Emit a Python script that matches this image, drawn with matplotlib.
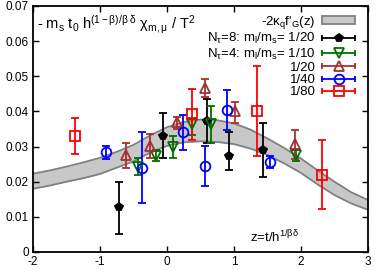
import numpy as np
import matplotlib
matplotlib.use("Agg")
import matplotlib.pyplot as plt
from matplotlib.lines import Line2D
from matplotlib.patches import Patch
from matplotlib.legend_handler import HandlerBase

plt.rcParams['font.family'] = ['Liberation Sans', 'DejaVu Sans']
plt.rcParams['mathtext.fontset'] = 'custom'
plt.rcParams['mathtext.rm'] = 'Liberation Sans'
plt.rcParams['mathtext.it'] = 'Liberation Sans'

# band: -2 kappa_q f'_G(z)
band_x = [-2.0, -1.75, -1.5, -1.25, -1.0, -0.75, -0.5, -0.25, 0.0, 0.25, 0.5,
          0.75, 1.0, 1.25, 1.5, 1.75, 2.0, 2.25, 2.5, 2.75, 3.0]
band_hi = [0.0223, 0.0232, 0.0243, 0.0255, 0.0268, 0.0285, 0.0305, 0.0332, 0.0355, 0.0370, 0.0377,
           0.0375, 0.0366, 0.0348, 0.0323, 0.0296, 0.0266, 0.0232, 0.0200, 0.0170, 0.0148]
band_lo = [0.0180, 0.0189, 0.0200, 0.0210, 0.0222, 0.0240, 0.0258, 0.0283, 0.0302, 0.0312, 0.0315,
           0.0313, 0.0307, 0.0294, 0.0276, 0.0252, 0.0225, 0.0192, 0.0162, 0.0138, 0.0120]

# N_tau=8, ml/ms=1/20
nt8_x = [-0.72, -0.06, 0.60, 0.92, 1.43]
nt8_y = [0.0127, 0.0331, 0.0372, 0.0272, 0.0291]
nt8_lo = [0.0051, 0.0268, 0.0311, 0.0234, 0.0213]
nt8_hi = [0.0199, 0.0396, 0.0434, 0.0341, 0.0368]

# N_tau=4, ml/ms=1/10
m10_x = [-0.43, -0.17, 0.09, 0.37, 0.65, 1.93]
m10_y = [0.0242, 0.0274, 0.0300, 0.0363, 0.0363, 0.0277]
m10_lo = [0.0220, 0.0258, 0.0268, 0.0334, 0.0309, 0.0258]
m10_hi = [0.0268, 0.0290, 0.0330, 0.0382, 0.0415, 0.0291]

# N_tau=4, ml/ms=1/20
m20_x = [-0.61, -0.26, 0.15, 0.57, 1.02, 1.91]
m20_y = [0.0277, 0.0301, 0.0369, 0.0468, 0.0401, 0.0306]
m20_lo = [0.0239, 0.0268, 0.0349, 0.0441, 0.0368, 0.0266]
m20_hi = [0.0310, 0.0336, 0.0385, 0.0491, 0.0427, 0.0346]

# N_tau=4, ml/ms=1/40
m40_x = [-0.91, -0.37, 0.24, 0.56, 0.89, 1.53]
m40_y = [0.0284, 0.0239, 0.0341, 0.0244, 0.0404, 0.0256]
m40_lo = [0.0265, 0.0139, 0.0291, 0.0187, 0.0347, 0.0239]
m40_hi = [0.0301, 0.0341, 0.0391, 0.0303, 0.0461, 0.0274]

# N_tau=4, ml/ms=1/80
m80_x = [-1.38, 0.37, 1.35, 2.32]
m80_y = [0.0329, 0.0394, 0.0401, 0.0220]
m80_lo = [0.0280, 0.0320, 0.0272, 0.0123]
m80_hi = [0.0382, 0.0465, 0.0528, 0.0320]

xticks = [-2, -1, 0, 1, 2, 3]
yticks = [0, 0.01, 0.02, 0.03, 0.04, 0.05, 0.06, 0.07]
ytick_labels = ['0', '0.01', '0.02', '0.03', '0.04', '0.05', '0.06', '0.07']

fig = plt.figure(figsize=(3.77, 2.70), dpi=100)
ax = fig.add_axes([33/377, 1-252/270, (368-33)/377, (252-6)/270])

bx = np.array(band_x)
ax.fill_between(bx, band_lo, band_hi, color='#c8c8c8', lw=0, zorder=1)
ax.plot(bx, band_hi, color='#808080', lw=1.3, zorder=2)
ax.plot(bx, band_lo, color='#808080', lw=1.3, zorder=2)

series = [
    (nt8_x, nt8_y, nt8_lo, nt8_hi, 'black', 'p', True, 6, r'N$_\tau$=8: m$_l$/m$_s$= 1/20'),
    (m10_x, m10_y, m10_lo, m10_hi, '#006e00', 'v', False, 7, r'N$_\tau$=4: m$_l$/m$_s$= 1/10'),
    (m20_x, m20_y, m20_lo, m20_hi, '#a53030', '^', False, 7, '1/20'),
    (m40_x, m40_y, m40_lo, m40_hi, '#0000ff', 'o', False, 7, '1/40'),
    (m80_x, m80_y, m80_lo, m80_hi, '#ff0000', 's', False, 7, '1/80'),
]

for xs, ys, lo, hi, c, m, filled, ms, lab in series:
    ys_a = np.array(ys)
    yerr = [ys_a - np.array(lo), np.array(hi) - ys_a]
    ax.errorbar(xs, ys, yerr=yerr, fmt=m, color=c, ms=ms, mew=1.3,
                mfc=c if filled else 'none', ecolor=c, elinewidth=1.3,
                capsize=2.7, capthick=1.3, zorder=3)

class HandlerEB(HandlerBase):
    def create_artists(self, legend, orig_handle, xdescent, ydescent,
                       width, height, fontsize, trans):
        c = orig_handle.get_color()
        y = (height - ydescent) / 2
        x0, x1 = -xdescent, width - xdescent
        line = Line2D([x0, x1], [y, y], color=c, lw=1.3, transform=trans)
        caps = Line2D([x0, x1], [y, y], ls='none', marker='|', ms=5,
                      mew=1.3, color=c, transform=trans)
        mk = Line2D([(x0 + x1) / 2], [y], ls='none',
                    marker=orig_handle.get_marker(), ms=orig_handle.get_markersize(),
                    mew=1.3, color=c, mfc=orig_handle.get_markerfacecolor(),
                    transform=trans)
        return [line, caps, mk]

handles = [Patch(facecolor='#c8c8c8', edgecolor='#808080', lw=1.3)]
labels = [r"-2$\kappa_q$f$'_G$(z)"]
hmap = {}
for xs, ys, lo, hi, c, m, filled, ms, lab in series:
    h = Line2D([], [], color=c, marker=m, ms=ms, mfc=c if filled else 'none')
    handles.append(h)
    labels.append(lab)
    hmap[h] = HandlerEB()

leg = ax.legend(handles, labels, loc='upper right', bbox_to_anchor=(0.985, 1.0),
                frameon=False, markerfirst=False, fontsize=9.5, handlelength=2.5,
                handleheight=0.6, labelspacing=0.02, handletextpad=0.5,
                borderaxespad=0.2, handler_map=hmap)

ax.text(0.012, 0.923, r"- m$_s$ t$_0$ h$^{(1-\beta)/\beta\ \delta}$ $\chi_{m,\mu}$ / T$^2$",
        transform=ax.transAxes, fontsize=10.5, ha='left', va='center')
ax.text(0.72, 0.06, r"z=t/h$^{1/\beta\delta}$", transform=ax.transAxes,
        fontsize=9.5, ha='center', va='center')

ax.set_xlim(-2, 3)
ax.set_ylim(0, 0.07)
ax.set_xticks(xticks)
ax.set_xticklabels([str(t) for t in xticks])
ax.set_yticks(yticks)
ax.set_yticklabels(ytick_labels)
ax.tick_params(direction='in', top=True, right=True, length=4, width=1,
               labelsize=8.5, pad=3)
for s in ax.spines.values():
    s.set_linewidth(1.3)

fig.savefig('out.png', dpi=100)
